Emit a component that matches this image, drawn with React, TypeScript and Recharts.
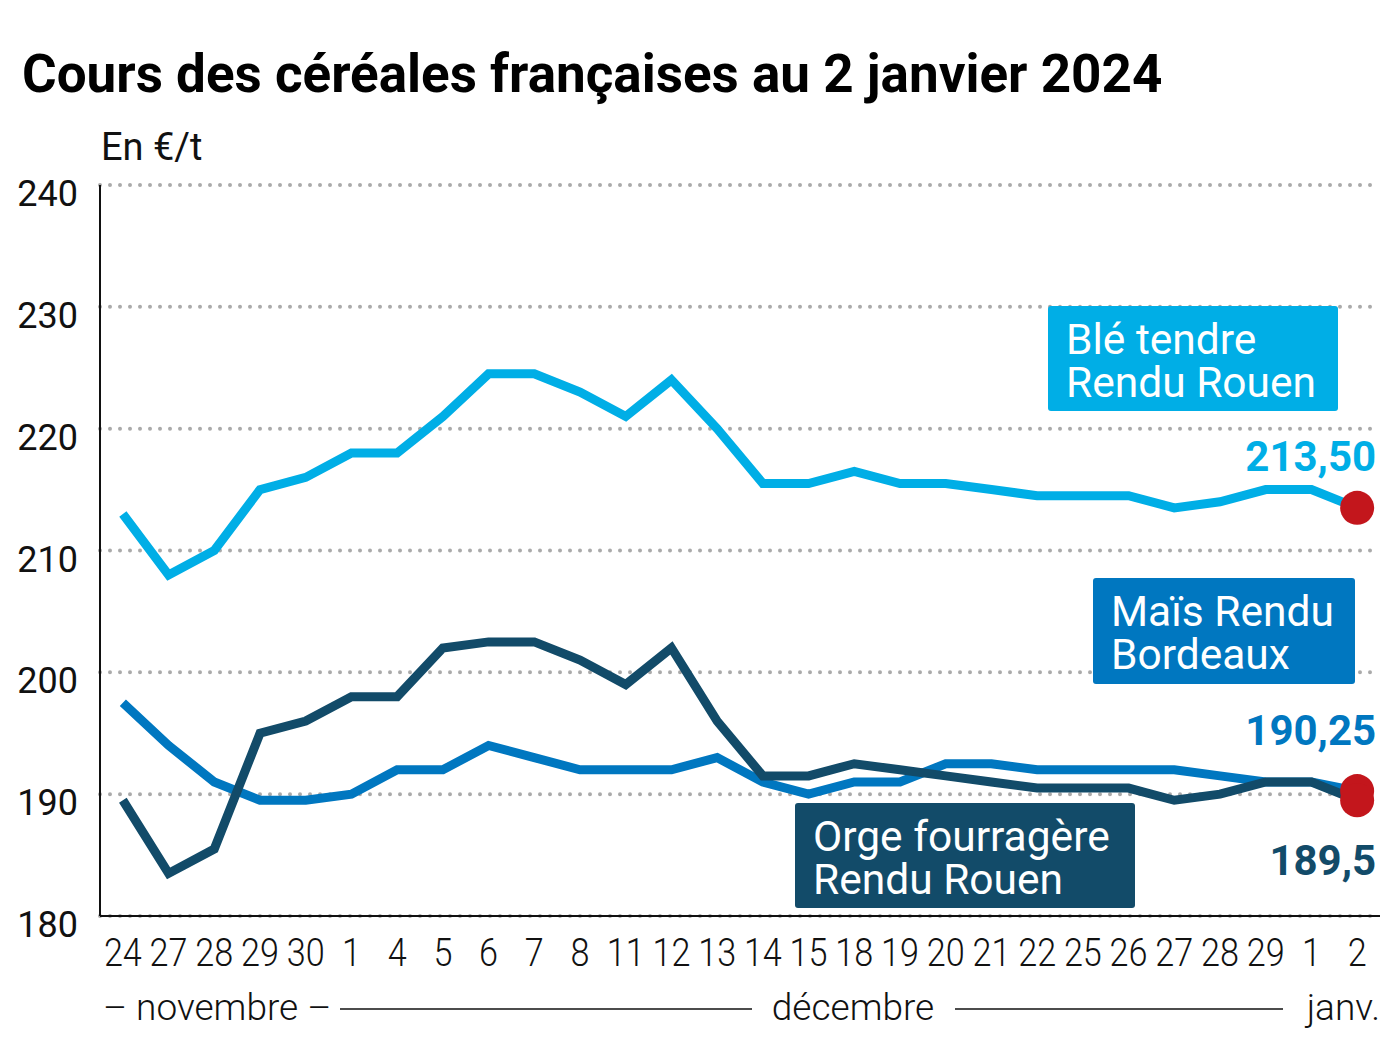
import { CartesianGrid, Line, LineChart, ReferenceDot, XAxis, YAxis } from "recharts";

// Trading days from 24 Nov 2023 to 2 Jan 2024
const DAYS = ["24", "27", "28", "29", "30", "1", "4", "5", "6", "7", "8", "11", "12", "13", "14", "15", "18", "19", "20", "21", "22", "25", "26", "27", "28", "29", "1", "2"];

const BLE = [213, 208, 210, 215, 216, 218, 218, 221, 224.5, 224.5, 223, 221, 224, 220, 215.5, 215.5, 216.5, 215.5, 215.5, 215, 214.5, 214.5, 214.5, 213.5, 214, 215, 215, 213.5];
const MAIS = [197.5, 194, 191, 189.5, 189.5, 190, 192, 192, 194, 193, 192, 192, 192, 193, 191, 190, 191, 191, 192.5, 192.5, 192, 192, 192, 192, 191.5, 191, 191, 190.25];
const ORGE = [189.5, 183.5, 185.5, 195, 196, 198, 198, 202, 202.5, 202.5, 201, 199, 202, 196, 191.5, 191.5, 192.5, 192, 191.5, 191, 190.5, 190.5, 190.5, 189.5, 190, 191, 191, 189.5];

const Y_TICKS = [180, 190, 200, 210, 220, 230, 240];
const END_LABELS = { ble: "213,50", mais: "190,25", orge: "189,5" };

const C_BLE = "#00aee6";
const C_MAIS = "#0077c0";
const C_ORGE = "#124b69";
const C_RED = "#c3161c";
const FONT = "Roboto, sans-serif";

const LAST = DAYS.length - 1;
const data = DAYS.map((d, i) => ({ i, day: d, ble: BLE[i], mais: MAIS[i], orge: ORGE[i] }));

const XTick = ({ x, y, payload }: any) => (
  <text
    transform={`translate(${x},${y}) scale(0.9,1)`}
    textAnchor="middle"
    dy={42}
    fontSize={38}
    fontWeight={300}
    fontFamily={FONT}
    fill="#111"
  >
    {DAYS[payload.value]}
  </text>
);

const YTick = ({ x, y, payload }: any) => (
  <text x={x - 14} y={y} dy={21} textAnchor="end" fontSize={36} fontFamily={FONT} fill="#111">
    {payload.value}
  </text>
);

// text next to the last point of a series
const endLabel = (text: string, color: string, dy: number) => (p: any) =>
  p.index === LAST ? (
    <text key={text} x={p.x + 19} y={p.y + dy} textAnchor="end" fontSize={42} fontWeight={700} fontFamily={FONT} fill={color}>
      {text}
    </text>
  ) : null;

function Tag({ x, y, w, h, color, lines }: { x: number; y: number; w: number; h: number; color: string; lines: string[] }) {
  return (
    <g>
      <rect x={x} y={y} width={w} height={h} rx={3} fill={color} />
      <text x={x + 18} y={y + 48} fontSize={42.5} fontFamily={FONT} fill="#fff">
        {lines.map((l, k) => (
          <tspan key={k} x={x + 18} dy={k === 0 ? 0 : 43}>
            {l}
          </tspan>
        ))}
      </text>
    </g>
  );
}

export default function App() {
  const month = { fontSize: 37, fontWeight: 300, fontFamily: FONT, fill: "#111" };
  return (
    <div style={{ position: "absolute", left: 0, top: 0, width: 1400, height: 1045, background: "#fff" }}>
      <LineChart width={1400} height={1045} data={data} margin={{ top: 185, right: 20, bottom: 79, left: 20 }}>
        <CartesianGrid vertical={false} stroke="#aaa" strokeWidth={4} strokeDasharray="0 10" strokeLinecap="round" />
        <XAxis
          dataKey="i"
          type="number"
          domain={[-0.5, LAST + 0.5]}
          ticks={DAYS.map((_, i) => i)}
          interval={0}
          height={50}
          tickLine={false}
          axisLine={{ stroke: "#111", strokeWidth: 2 }}
          tick={<XTick />}
        />
        <YAxis
          width={80}
          domain={[180, 240]}
          ticks={Y_TICKS}
          tickLine={false}
          axisLine={{ stroke: "#111", strokeWidth: 2 }}
          tick={<YTick />}
        />
        <Line dataKey="mais" stroke={C_MAIS} strokeWidth={9} dot={false} isAnimationActive={false} label={endLabel(END_LABELS.mais, C_MAIS, -46)} />
        <Line dataKey="orge" stroke={C_ORGE} strokeWidth={9} dot={false} isAnimationActive={false} label={endLabel(END_LABELS.orge, C_ORGE, 75)} />
        <Line dataKey="ble" stroke={C_BLE} strokeWidth={9} dot={false} isAnimationActive={false} label={endLabel(END_LABELS.ble, C_BLE, -37)} />
        <ReferenceDot x={LAST} y={BLE[LAST]} r={17} fill={C_RED} stroke="none" />
        <ReferenceDot x={LAST} y={MAIS[LAST]} r={17} fill={C_RED} stroke="none" />
        <ReferenceDot x={LAST} y={ORGE[LAST]} r={17} fill={C_RED} stroke="none" />
      </LineChart>

      <svg width={1400} height={1045} style={{ position: "absolute", left: 0, top: 0, pointerEvents: "none" }}>
        <text x={22} y={92} fontSize={53} fontWeight={700} fontFamily={FONT} fill="#000">
          Cours des céréales françaises au 2 janvier 2024
        </text>
        <text x={101} y={160} fontSize={38} fontFamily={FONT} fill="#111">
          En €/t
        </text>

        <Tag x={1048} y={306} w={290} h={105} color={C_BLE} lines={["Blé tendre", "Rendu Rouen"]} />
        <Tag x={1093} y={578} w={262} h={106} color={C_MAIS} lines={["Maïs Rendu", "Bordeaux"]} />
        <Tag x={795} y={803} w={340} h={105} color={C_ORGE} lines={["Orge fourragère", "Rendu Rouen"]} />

        <text x={103} y={1020} {...month}>
          – novembre –
        </text>
        <line x1={340} x2={752} y1={1009} y2={1009} stroke="#111" strokeWidth={1.5} />
        <text x={853} y={1020} textAnchor="middle" {...month}>
          décembre
        </text>
        <line x1={955} x2={1283} y1={1009} y2={1009} stroke="#111" strokeWidth={1.5} />
        <text x={1380} y={1020} textAnchor="end" {...month}>
          janv.
        </text>
      </svg>
    </div>
  );
}
